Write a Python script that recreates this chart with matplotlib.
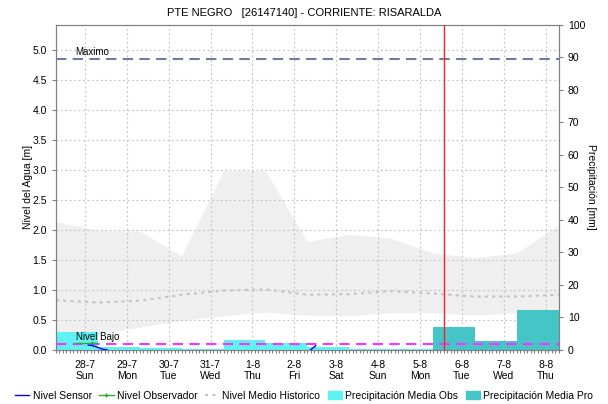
import numpy as np
import matplotlib
matplotlib.use("Agg")
import matplotlib.pyplot as plt
from matplotlib.lines import Line2D
from matplotlib.patches import Patch

plt.rcParams['font.family'] = ['Liberation Sans', 'DejaVu Sans']

# days since the start of the window (12 days shown)
day_labels = ['28-7\nSun', '29-7\nMon', '30-7\nTue', '31-7\nWed', '1-8\nThu', '2-8\nFri',
              '3-8\nSat', '4-8\nSun', '5-8\nMon', '6-8\nTue', '7-8\nWed', '8-8\nThu']
tick_offset = 0.69

# historic band (m), one vertex per day boundary
hist_x = [0, 1, 2, 3, 4, 5, 6, 7, 8, 9, 10, 11, 12]
hist_upper = [2.14, 2.0, 1.98, 1.57, 2.99, 2.99, 1.81, 1.93, 1.86, 1.62, 1.54, 1.62, 2.09]
hist_lower = [0.20, 0.27, 0.38, 0.49, 0.57, 0.63, 0.58, 0.57, 0.62, 0.62, 0.58, 0.62, 0.68]
hist_median = [0.83, 0.79, 0.82, 0.92, 0.99, 1.01, 0.92, 0.93, 0.98, 0.94, 0.89, 0.89, 0.92]

# daily precipitation (mm)
obs_days = [0, 1, 2, 3, 4, 5, 6, 7, 8]
obs_precip = [5.5, 0.9, 0.5, 0.2, 2.9, 2.2, 1.0, 0.3, 0.3]
obs_spike = 12.9
pro_days = [9, 10, 11]
pro_precip = [7.1, 2.7, 12.3]

# sensor / observer readings (m)
sensor_x1 = [0.77, 0.88, 1.0, 1.12, 1.22]
sensor_y1 = [0.08, 0.07, 0.04, 0.01, 0.0]
sensor_x2 = [6.08, 6.2]
sensor_y2 = [0.0, 0.07]
obs_x = [0.48, 0.85, 0.98]
obs_y = [0.11, 0.11, 0.11]

nivel_maximo = 4.86
nivel_bajo = 0.095
now_x = 9.26

fig = plt.figure(figsize=(6.08, 4.04), dpi=100)
ax = fig.add_axes([0.092, 0.134, 0.827, 0.805])
ax2 = ax.twinx()
top = fig.add_axes(ax.get_position(), sharex=ax, sharey=ax)
top.axis('off')

# background: historic band + median
ax.fill_between(hist_x, hist_lower, hist_upper, color='#efefef', lw=0)
ax.plot(hist_x, hist_median, color='#c4c4c4', lw=1.5, ls=(0, (1.5, 2)))

ax.set_xlim(0, 12)
ax.set_ylim(0, 5.43)
ax.set_yticks(np.arange(0, 5.01, 0.5))
ax.set_yticklabels([f'{v:.1f}' for v in np.arange(0, 5.01, 0.5)])
ax.set_xticks([i + tick_offset for i in range(12)])
ax.set_xticklabels(day_labels)
ax.set_xticks(np.arange(0, 12.01, 1 / 12), minor=True)
ax.grid(True, color='#c0c0c0', ls=(0, (1.5, 2.5)), lw=0.8)
ax.tick_params(axis='both', labelsize=7.5, colors='#000000', length=3, color='#808080')
ax.tick_params(axis='x', which='minor', length=2, color='#606060')
ax.tick_params(axis='x', length=0, pad=7)
ax.set_ylabel('Nivel del Agua [m]', fontsize=7.5)
ax.yaxis.set_label_coords(-0.045, 0.5)

# precipitation bars on the right axis
ax2.bar(obs_days, obs_precip, width=1.0, align='edge', color='#5ef2f2', lw=0)
ax2.bar([0], [obs_spike], width=0.03, align='edge', color='#5ef2f2', lw=0)
ax2.bar(pro_days, pro_precip, width=1.0, align='edge', color='#45c5c5', lw=0)
ax2.set_ylim(0, 100)
ax2.set_yticks(np.arange(0, 101, 10))
ax2.tick_params(axis='y', labelsize=7.5, length=3, color='#808080')
ax2.set_ylabel('Precipitación [mm]', fontsize=7.5, rotation=270, labelpad=8)

for a in (ax, ax2):
    for s in a.spines.values():
        s.set_color('#808080')

# reference levels, readings, and current time
top.axhline(nivel_maximo, color='#6f7ca0', lw=1.5, ls=(0, (5, 3)))
top.text(0.45, nivel_maximo + 0.03, 'Maximo', fontsize=7, va='bottom')
top.axhline(nivel_bajo, color='#ff33ff', lw=1.5, ls=(0, (5, 3)))
top.text(0.48, nivel_bajo + 0.03, 'Nivel Bajo', fontsize=7, va='bottom')
top.plot(obs_x, obs_y, color='#33aa33', lw=1, marker='+', markersize=3, markevery=[1])
top.plot(sensor_x1, sensor_y1, color='#0000ff', lw=1)
top.plot(sensor_x2, sensor_y2, color='#0000ff', lw=1)
top.axvline(now_x, color='#ff2020', lw=1)

fig.suptitle('PTE NEGRO   [26147140] - CORRIENTE: RISARALDA', fontsize=8, y=0.98)

handles = [
    Line2D([], [], color='#0000ff', lw=1),
    Line2D([], [], color='#33aa33', lw=1, marker='+', markersize=3),
    Line2D([], [], color='#c4c4c4', lw=1.5, ls=(0, (1.5, 2))),
    Patch(color='#5ef2f2'),
    Patch(color='#45c5c5'),
]
labels = ['Nivel Sensor', 'Nivel Observador', 'Nivel Medio Historico',
          'Precipitación Media Obs', 'Precipitación Media Pro']
fig.legend(handles, labels, loc='lower center', bbox_to_anchor=(0.5, -0.015), ncol=5,
           frameon=False, fontsize=7.5, handlelength=1.4, handletextpad=0.3,
           columnspacing=0.7)

fig.savefig('out.png', dpi=100)
